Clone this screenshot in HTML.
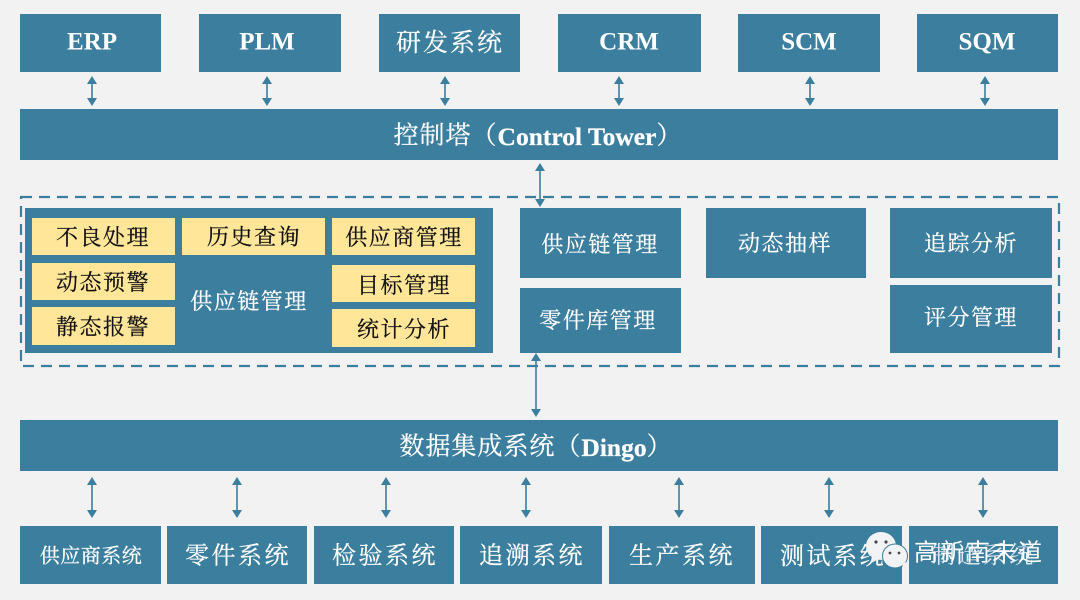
<!DOCTYPE html>
<html><head><meta charset="utf-8"><style>
html,body{margin:0;padding:0;background:#f2f2f2;width:1080px;height:600px;overflow:hidden}
svg{display:block}
text{font-family:"Liberation Serif","Noto Serif CJK SC",serif;text-anchor:middle;fill:#fff;dominant-baseline:central;stroke:#fff;stroke-width:.25px}
.b{fill:#3c7e9e}.y{fill:#ffe699}
.k{fill:#111;stroke:#111;font-size:22px;letter-spacing:1.5px}
.w{font-size:24px;letter-spacing:2.5px}
.e{font-size:25px;font-weight:bold;stroke:none}
.a{stroke:#3c7e9e;stroke-width:1.6;fill:none}
.h{fill:#3c7e9e}
</style></head><body>
<svg width="1080" height="600" viewBox="0 0 1080 600" xmlns="http://www.w3.org/2000/svg">
<rect width="1080" height="600" fill="#f2f2f2"/>
<rect class="b" x="20" y="14" width="141" height="58"/>
<rect class="b" x="199" y="14" width="142" height="58"/>
<rect class="b" x="379" y="14" width="141" height="58"/>
<rect class="b" x="558" y="14" width="143" height="58"/>
<rect class="b" x="738" y="14" width="142" height="58"/>
<rect class="b" x="917" y="14" width="141" height="58"/>
<text class="e" x="92" y="42">ERP</text>
<text class="e" x="267" y="42">PLM</text>
<text x="450" y="43.5" style="font-size:25px;letter-spacing:2px">研发系统</text>
<text class="e" x="629" y="42">CRM</text>
<text class="e" x="809" y="42">SCM</text>
<text class="e" x="987" y="42">SQM</text>
<rect class="b" x="20" y="109" width="1038" height="51"/>
<text x="538" y="136" style="font-size:25px;letter-spacing:1px">控制塔（<tspan font-weight="bold" style="letter-spacing:0;font-size:25.5px">Control Tower</tspan>）</text>

<rect x="21" y="197" width="1038" height="169" fill="none" stroke="#3c7e9e" stroke-width="2.2" stroke-dasharray="11 7"/>
<rect class="b" x="25" y="208" width="468" height="145"/>
<rect class="y" x="32" y="218" width="143" height="37"/>
<rect class="y" x="32" y="263" width="143" height="37"/>
<rect class="y" x="32" y="307" width="143" height="38"/>
<rect class="y" x="182" y="218" width="143" height="37"/>
<rect class="y" x="332" y="218" width="143" height="37"/>
<rect class="y" x="332" y="265" width="143" height="37"/>
<rect class="y" x="332" y="309" width="143" height="38"/>
<text class="k" x="103" y="237.5">不良处理</text>
<text class="k" x="103" y="282.5">动态预警</text>
<text class="k" x="103" y="327">静态报警</text>
<text class="k" x="254" y="237">历史查询</text>
<text class="k" x="404" y="237.5">供应商管理</text>
<text class="k" x="404" y="285.5">目标管理</text>
<text class="k" x="404" y="329.5">统计分析</text>
<text x="249" y="301.5" style="font-size:22px;letter-spacing:1.5px">供应链管理</text>

<rect class="b" x="520" y="208" width="161" height="70"/>
<rect class="b" x="520" y="288" width="161" height="65"/>
<rect class="b" x="706" y="208" width="160" height="70"/>
<rect class="b" x="890" y="208" width="162" height="70"/>
<rect class="b" x="890" y="285" width="162" height="68"/>
<text x="600" y="244.5" style="font-size:22px;letter-spacing:1.5px">供应链管理</text>
<text x="598" y="320.5" style="font-size:22px;letter-spacing:1.5px">零件库管理</text>
<text x="785" y="243.5" style="font-size:22px;letter-spacing:1.5px">动态抽样</text>
<text x="971" y="243.5" style="font-size:22px;letter-spacing:1.5px">追踪分析</text>
<text x="971" y="317.5" style="font-size:22px;letter-spacing:1.5px">评分管理</text>

<rect class="b" x="20" y="420" width="1038" height="51"/>
<text x="536" y="447" style="font-size:25px;letter-spacing:1px">数据集成系统（<tspan font-weight="bold" style="letter-spacing:0;font-size:25.5px">Dingo</tspan>）</text>

<rect class="b" x="20" y="526" width="141" height="58"/>
<rect class="b" x="167" y="526" width="140" height="58"/>
<rect class="b" x="314" y="526" width="140" height="58"/>
<rect class="b" x="460" y="526" width="142" height="58"/>
<rect class="b" x="609" y="526" width="146" height="58"/>
<rect class="b" x="761" y="526" width="141" height="58"/>
<rect class="b" x="909" y="526" width="149" height="58"/>
<text x="91" y="556.5" style="font-size:20px;letter-spacing:.5px">供应商系统</text>
<text class="w" x="238" y="556.5">零件系统</text>
<text class="w" x="385" y="556.5">检验系统</text>
<text class="w" x="532" y="556.5">追溯系统</text>
<text class="w" x="682" y="556.5">生产系统</text>
<text class="w" x="833" y="557">测试系统</text>

<!-- arrows -->
<path class="a" d="M92 80V103M267 80V103M445 80V103M619 80V103M810 80V103M985 80V103M540 167V203M536 357V413M92 481V514M237 481V514M386 481V514M526 481V514M679 481V514M829 481V514M983 481V514"/>
<path class="h" d="M92 76l5 8h-10zM92 106l5-8h-10zM267 76l5 8h-10zM267 106l5-8h-10zM445 76l5 8h-10zM445 106l5-8h-10zM619 76l5 8h-10zM619 106l5-8h-10zM810 76l5 8h-10zM810 106l5-8h-10zM985 76l5 8h-10zM985 106l5-8h-10z"/>
<path class="h" d="M540 163l5 8h-10zM540 207l5-8h-10zM536 353l5 8h-10zM536 417l5-8h-10z"/>
<path class="h" d="M92 477l5 8h-10zM92 518l5-8h-10zM237 477l5 8h-10zM237 518l5-8h-10zM386 477l5 8h-10zM386 518l5-8h-10zM526 477l5 8h-10zM526 518l5-8h-10zM679 477l5 8h-10zM679 518l5-8h-10zM829 477l5 8h-10zM829 518l5-8h-10zM983 477l5 8h-10zM983 518l5-8h-10z"/>

<!-- watermark -->
<ellipse cx="881" cy="546" rx="15" ry="14" fill="#f1f3f4"/>
<path d="M873 556l-2 7 8-4z" fill="#f1f3f4"/>
<circle cx="876" cy="542" r="1.6" fill="#4a4a4a"/><circle cx="886" cy="542" r="1.6" fill="#4a4a4a"/>
<ellipse cx="895" cy="556" rx="12.5" ry="12" fill="#f1f3f4" stroke="#3c7e9e" stroke-width="1"/>
<path d="M902 565l5 4-1-7z" fill="#f1f3f4"/>
<circle cx="890" cy="553" r="1.4" fill="#4a4a4a"/><circle cx="899" cy="553" r="1.4" fill="#4a4a4a"/>
<text x="979" y="553" style="font-size:24px;font-family:'Liberation Sans','Noto Sans CJK SC',sans-serif;letter-spacing:2px;stroke:none">高新南未道</text>
<text x="983" y="556" style="font-size:24px;letter-spacing:2px;opacity:.85;stroke:none">制造系统</text>
</svg>
</body></html>
